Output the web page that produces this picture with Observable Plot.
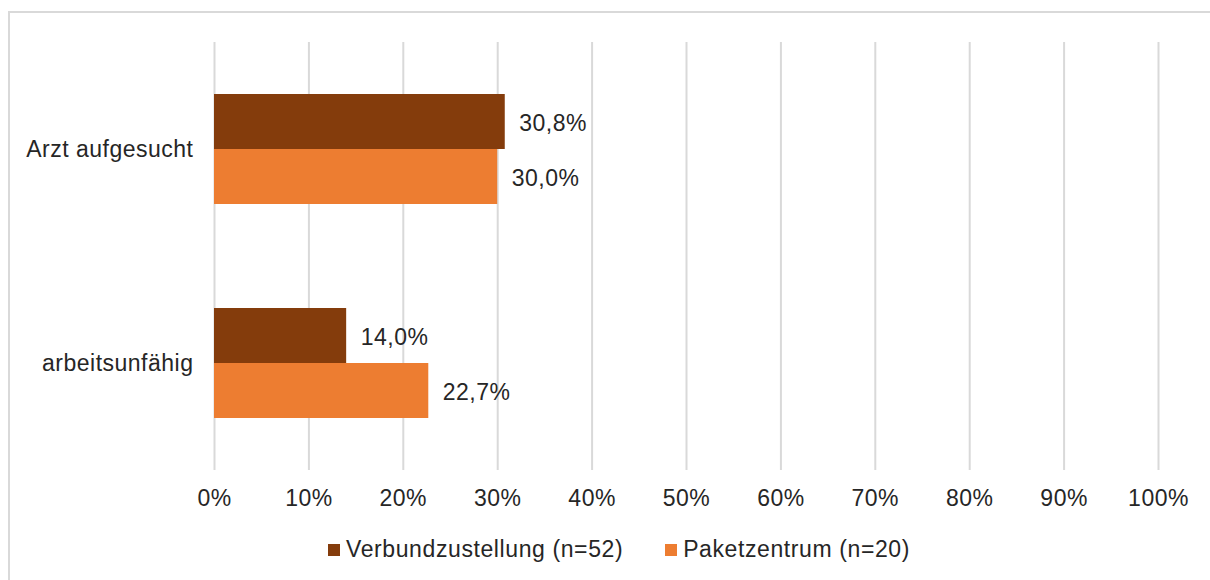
<!DOCTYPE html>
<html>
<head>
<meta charset="utf-8">
<script src="https://cdn.jsdelivr.net/npm/d3@7"></script>
<script src="https://cdn.jsdelivr.net/npm/@observablehq/plot@0.6"></script>
<style>
  html, body { margin: 0; padding: 0; background: #fff; overflow: hidden; width: 1210px; height: 580px; }
  #frame { position: absolute; left: 8px; top: 11px; width: 1400px; height: 800px; border: 2px solid #d9d9d9; box-sizing: border-box; }
  #chart { position: absolute; left: 0; top: 0; }
  #chart svg text { letter-spacing: 0.5px; }
  #legend { position: absolute; top: 536px; left: 328px; display: flex; align-items: center; font-family: "Liberation Sans", Arial, sans-serif; font-size: 23px; letter-spacing: 0.6px; color: #262626; white-space: nowrap; }
  .item { display: flex; align-items: center; margin-right: 42px; }
  .sw { width: 12px; height: 12px; margin-right: 6px; }
</style>
</head>
<body>
<div id="frame"></div>
<div id="chart"></div>
<div id="legend"></div>
<script>
const categories = ["Arzt aufgesucht", "arbeitsunfähig"];
const series = ["Verbundzustellung (n=52)", "Paketzentrum (n=20)"];
const verbundValues = [30.8, 14.0];
const paketValues = [30.0, 22.7];
const xTicks = [0, 10, 20, 30, 40, 50, 60, 70, 80, 90, 100];
const colors = ["#843C0C", "#ED7D31"];

const data = categories.flatMap((c, i) => [
  {category: c, series: series[0], value: verbundValues[i]},
  {category: c, series: series[1], value: paketValues[i]}
]);

const fmt = d => d.toFixed(1).replace(".", ",") + "%";

const chart = Plot.plot({
  width: 1210,
  height: 520,
  marginTop: 42,
  marginBottom: 50,
  marginLeft: 214,
  marginRight: 52,
  style: {fontFamily: "'Liberation Sans', Arial, sans-serif", fontSize: "23px", color: "#262626", background: "transparent"},
  x: {domain: [0, 100], label: null},
  y: {domain: series, axis: null, paddingInner: 0, paddingOuter: 0.928},
  fy: {domain: categories, padding: 0, label: null},
  color: {domain: series, range: colors},
  marks: [
    Plot.gridX(xTicks, {stroke: "#d9d9d9", strokeOpacity: 1, strokeWidth: 2}),
    Plot.barX(data, {x: "value", y: "series", fy: "category", fill: "series"}),
    Plot.text(data, {x: "value", y: "series", fy: "category", text: d => fmt(d.value), textAnchor: "start", dx: 14, dy: 2, fill: "#262626"}),
    Plot.axisX({ticks: xTicks, tickSize: 0, tickPadding: 19, tickFormat: d => d + "%", label: null}),
    Plot.axisFy({anchor: "left", tickSize: 0, tickPadding: 21, label: null})
  ]
});
document.getElementById("chart").appendChild(chart);

const legend = document.getElementById("legend");
series.forEach((s, i) => {
  const item = document.createElement("div");
  item.className = "item";
  const sw = document.createElement("div");
  sw.className = "sw";
  sw.style.background = colors[i];
  const t = document.createElement("span");
  t.textContent = s;
  item.appendChild(sw);
  item.appendChild(t);
  legend.appendChild(item);
});
</script>
</body>
</html>
